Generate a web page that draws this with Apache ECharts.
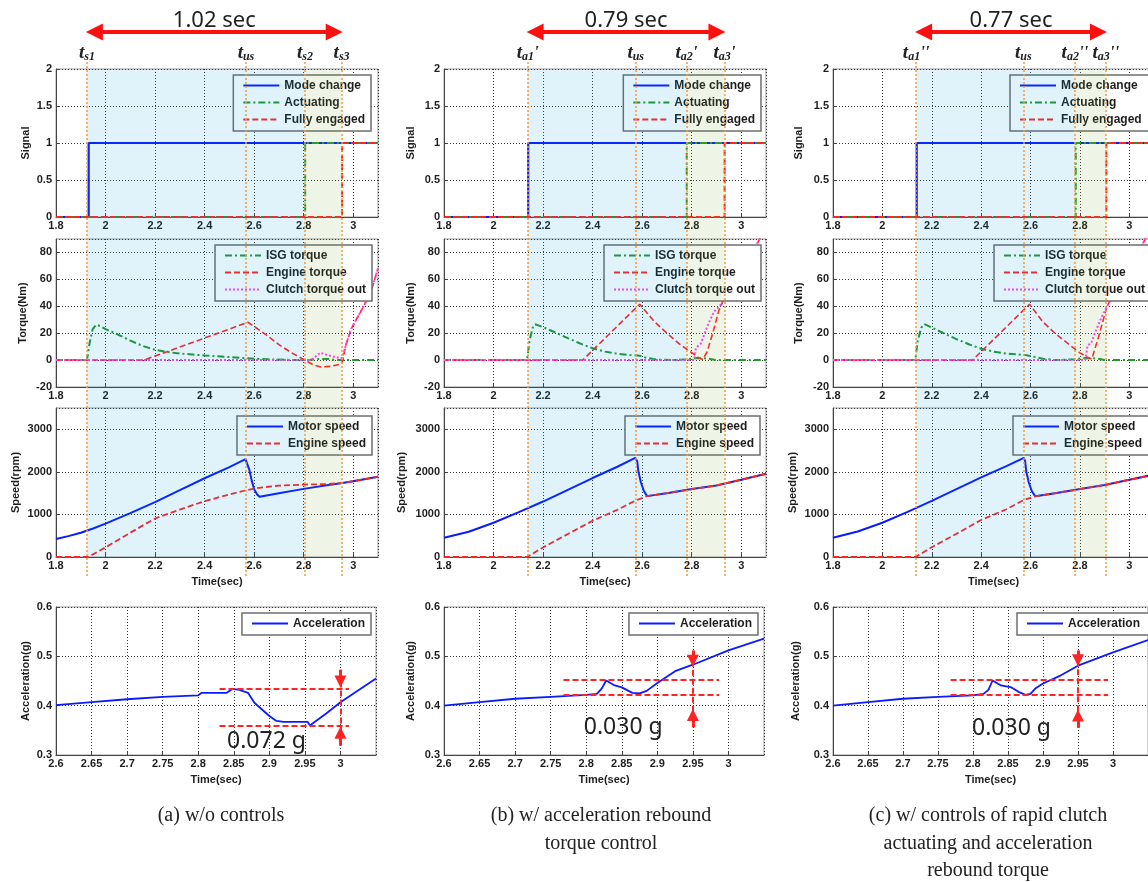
<!DOCTYPE html>
<html>
<head>
<meta charset="utf-8">
<title>Clutch engagement comparison</title>
<script src="https://cdn.jsdelivr.net/npm/echarts@6.0.0/dist/echarts.min.js"></script>
<style>
  html, body { margin: 0; padding: 0; background: #fff; }
  #main { width: 1148px; height: 882px; }
</style>
</head>
<body>
<div id="main"></div>
<script>
// ---- values ----
// event times per case: [t1, tus, t2, t3]
var eventsA = [1.925, 2.567, 2.805, 2.953];
var eventsB = [2.138, 2.574, 2.779, 2.932];
var eventsC = [2.137, 2.571, 2.780, 2.905];
var tagsA = [['s1', ''], ['us', ''], ['s2', ''], ['s3', '']];
var tagsB = [['a1', "'"], ['us', ''], ['a2', "'"], ['a3', "'"]];
var tagsC = [['a1', "''"], ['us', ''], ['a2', "''"], ['a3', "''"]];
var spanText = ['1.02 sec', '0.79 sec', '0.77 sec'];

// signal switching times [mode change, actuating, fully engaged]
var switchA = [1.932, 2.806, 2.955];
var switchB = [2.140, 2.780, 2.933];
var switchC = [2.139, 2.783, 2.907];

// torque (Nm)
var isgTqA = [[1.8,0],[1.925,0],[1.935,12],[1.948,23],[1.962,26.3],[1.98,25.2],[2.0,23],[2.05,19],[2.1,14.5],[2.15,10.5],[2.2,7.6],[2.25,6],[2.3,4.9],[2.4,3.4],[2.5,2.3],[2.57,1.3],[2.65,0.6],[2.75,0.1],[2.82,0],[2.86,0.8],[2.9,0.8],[2.93,0],[3.1,0]];
var engTqA = [[1.8,0],[2.155,0],[2.575,28.1],[2.6,25],[2.65,18.5],[2.7,11.5],[2.75,5.5],[2.8,0.5],[2.84,-3.6],[2.87,-5.2],[2.91,-4.6],[2.945,-3.2],[2.955,-2],[2.97,11],[2.99,22.5],[3.0,26],[3.03,36],[3.06,46],[3.08,56],[3.1,68]];
var clutchA = [[1.8,0],[2.83,0],[2.85,3],[2.868,5.5],[2.89,4.2],[2.915,2.8],[2.94,1.8],[2.955,1.5],[2.97,11],[2.99,22.5],[3.0,26],[3.03,36],[3.06,46],[3.08,56],[3.1,68]];
var isgTqB = [[1.8,0],[2.135,0],[2.145,14],[2.158,24],[2.168,26.6],[2.2,24.5],[2.25,20.5],[2.3,16.3],[2.35,12.3],[2.4,8.8],[2.45,6.3],[2.5,4.7],[2.55,3.8],[2.59,3.2],[2.62,1.6],[2.66,0.4],[2.72,0],[2.78,0.5],[2.82,1.5],[2.86,1.2],[2.9,0],[3.1,0]];
var engTqB = [[1.8,0],[2.36,0],[2.59,41.5],[2.62,35],[2.65,28.5],[2.7,20],[2.75,12],[2.8,5.5],[2.83,1.6],[2.845,0.5],[2.862,6],[2.885,20],[2.91,37],[2.932,46],[3.075,90],[3.1,98]];
var clutchB = [[1.8,0],[2.81,0],[2.817,9],[2.837,12.3],[2.865,26],[2.89,36],[2.912,40],[2.932,46],[3.075,90],[3.1,98]];
var isgTqC = [[1.8,0],[2.133,0],[2.143,14],[2.157,24],[2.17,26.7],[2.2,24.2],[2.25,19.8],[2.3,15.6],[2.35,11.8],[2.4,8.4],[2.45,6.3],[2.5,4.9],[2.55,4.1],[2.58,3.7],[2.6,3],[2.65,1],[2.7,0],[2.77,0.5],[2.82,1.5],[2.87,1.2],[2.9,0],[3.1,0]];
var engTqC = [[1.8,0],[2.365,0],[2.596,41.5],[2.65,28.4],[2.7,19.8],[2.76,11],[2.8,5.4],[2.834,1.7],[2.848,0.7],[2.875,17],[2.909,39.5],[2.93,47],[3.065,90],[3.1,101]];
var clutchC = [[1.8,0],[2.822,0],[2.831,11],[2.845,12.5],[2.865,22],[2.888,32],[2.909,39.5],[2.93,47],[3.065,90],[3.1,101]];

// speed (rpm)
var motorA = [[1.8,424],[1.85,490],[1.9,570],[1.95,670],[2.0,785],[2.1,1030],[2.2,1290],[2.3,1570],[2.4,1850],[2.5,2110],[2.565,2300],[2.572,2310],[2.58,2060],[2.59,1800],[2.6,1590],[2.612,1470],[2.622,1414],[2.7,1500],[2.8,1600],[2.9,1690],[2.95,1730],[3.0,1780],[3.1,1885]];
var engSpA = [[1.8,0],[1.93,0],[2.0,226],[2.1,570],[2.2,905],[2.3,1115],[2.4,1311],[2.5,1468],[2.57,1570],[2.62,1626],[2.7,1678],[2.8,1700],[2.9,1715],[2.955,1740],[3.0,1785],[3.1,1885]];
var motorB = [[1.8,450],[1.9,592],[2.0,805],[2.1,1050],[2.2,1303],[2.3,1579],[2.4,1855],[2.5,2120],[2.572,2330],[2.58,2250],[2.585,2000],[2.595,1750],[2.607,1550],[2.62,1430],[2.7,1500],[2.8,1595],[2.9,1680],[3.0,1815],[3.1,1955]];
var engSpB = [[1.8,0],[2.135,0],[2.2,225],[2.3,540],[2.4,850],[2.5,1110],[2.575,1330],[2.62,1430],[2.7,1500],[2.8,1590],[2.9,1680],[3.0,1815],[3.1,1955]];
var motorC = [[1.8,450],[1.9,600],[2.0,805],[2.1,1055],[2.2,1318],[2.3,1595],[2.4,1871],[2.5,2130],[2.573,2330],[2.578,2250],[2.583,2000],[2.593,1750],[2.605,1550],[2.619,1425],[2.7,1500],[2.8,1595],[2.9,1690],[3.0,1816],[3.1,1934]];
var engSpC = [[1.8,0],[2.135,0],[2.2,230],[2.3,545],[2.4,870],[2.5,1115],[2.573,1342],[2.619,1425],[2.7,1500],[2.8,1595],[2.9,1690],[3.0,1816],[3.1,1934]];

// acceleration (g)
var accA = [[2.6,0.401],[2.65,0.407],[2.7,0.413],[2.75,0.418],[2.8,0.421],[2.805,0.426],[2.84,0.426],[2.848,0.434],[2.858,0.432],[2.87,0.426],[2.879,0.406],[2.9,0.379],[2.91,0.369],[2.92,0.367],[2.954,0.367],[2.957,0.360],[2.98,0.384],[3.0,0.407],[3.05,0.455]];
var accB = [[2.6,0.400],[2.65,0.407],[2.7,0.414],[2.75,0.418],[2.8,0.422],[2.815,0.424],[2.822,0.435],[2.828,0.451],[2.84,0.441],[2.85,0.437],[2.865,0.426],[2.875,0.425],[2.885,0.43],[2.9,0.446],[2.925,0.47],[2.95,0.483],[3.0,0.512],[3.05,0.536]];
var accC = [[2.6,0.400],[2.65,0.407],[2.7,0.414],[2.75,0.418],[2.8,0.421],[2.815,0.424],[2.822,0.432],[2.828,0.451],[2.84,0.441],[2.855,0.437],[2.865,0.428],[2.875,0.422],[2.882,0.424],[2.89,0.436],[2.9,0.445],[2.925,0.461],[2.95,0.481],[3.0,0.508],[3.05,0.533]];

// rebound marks: dashed levels and the printed difference
var dropA = [0.435, 0.359];
var dropB = [0.4525, 0.4225];
var dropC = [0.4525, 0.4225];
var dropText = ['0.072 g', '0.030 g', '0.030 g'];

var captions = ['(a) w/o controls', '(b) w/ acceleration rebound\ntorque control', '(c) w/ controls of rapid clutch\nactuating and acceleration\nrebound torque'];

// ---- layout ----
var rowTop = [69, 239, 408, 607];
var rowHeight = [148, 148, 149, 148];
var rows = [
  { name: 'Signal', min: 0, max: 2, interval: 0.5, legend: ['Mode change', 'Actuating', 'Fully engaged'] },
  { name: 'Torque(Nm)', min: -20, max: 90, interval: 20, legend: ['ISG torque', 'Engine torque', 'Clutch torque out'] },
  { name: 'Speed(rpm)', min: 0, max: 3500, interval: 1000, legend: ['Motor speed', 'Engine speed'] },
  { name: 'Acceleration(g)', min: 0.3, max: 0.6, interval: 0.1, legend: ['Acceleration'] }
];

var columns = [
  { left: 56, width: 322, accWidth: 320, nameGap: [25, 28, 35, 25], capX: 221, padRight: 6,
    legendPos: [{ right: 777, top: 75 }, { right: 776, top: 245 }, { right: 776, top: 416 }, { right: 777, top: 613 }],
    events: eventsA, tags: tagsA, sw: switchA, isg: isgTqA, engTq: engTqA, clutch: clutchA, motor: motorA, engSp: engSpA, acc: accA, drop: dropA,
    mark: { from: 2.83, to: 3.012, x: 3.0, down: [0.473, 0.449], up: [0.319, 0.345], text: [2.896, 0.327] } },
  { left: 444, width: 322, accWidth: 320, nameGap: [28, 28, 37, 28], capX: 601, padRight: 6,
    legendPos: [{ right: 387, top: 75 }, { right: 387, top: 245 }, { right: 388, top: 416 }, { right: 390, top: 613 }],
    events: eventsB, tags: tagsB, sw: switchB, isg: isgTqB, engTq: engTqB, clutch: clutchB, motor: motorB, engSp: engSpB, acc: accB, drop: dropB,
    mark: { from: 2.768, to: 2.987, x: 2.95, down: [0.512, 0.491], up: [0.356, 0.381], text: [2.852, 0.355] } },
  { left: 833, width: 321, accWidth: 315, nameGap: [29, 29, 35, 32], capX: 988, padRight: 20,
    legendPos: [{ left: 1010, top: 75 }, { left: 994, top: 245 }, { left: 1013, top: 416 }, { left: 1017, top: 613 }],
    events: eventsC, tags: tagsC, sw: switchC, isg: isgTqC, engTq: engTqC, clutch: clutchC, motor: motorC, engSp: engSpC, acc: accC, drop: dropC,
    mark: { from: 2.768, to: 2.993, x: 2.95, down: [0.512, 0.492], up: [0.355, 0.380], text: [2.855, 0.354] } }
];

var blue = '#0b1bff', green = '#1e9a2c', red = '#ff2424', magenta = '#ff40ff', orange = '#f59a3c';
var styles = {
  'Mode change': { color: blue, type: 'solid', width: 2.2 },
  'Actuating': { color: green, type: [7, 3, 2, 3], width: 2 },
  'Fully engaged': { color: red, type: [6, 3], width: 2 },
  'ISG torque': { color: green, type: [7, 3, 2, 3], width: 2 },
  'Engine torque': { color: red, type: [6, 3], width: 1.6 },
  'Clutch torque out': { color: magenta, type: [2, 2], width: 2 },
  'Motor speed': { color: blue, type: 'solid', width: 2 },
  'Engine speed': { color: red, type: [6, 3], width: 1.8 },
  'Acceleration': { color: blue, type: 'solid', width: 1.8 }
};

var labelFont = { fontFamily: 'Liberation Sans', fontWeight: 'bold', fontSize: 11, color: '#1e1e1e' };
var tagStyle = { fontFamily: 'Liberation Serif', fontStyle: 'italic', fontWeight: 'bold', color: '#222' };
var tagRich = {
  t: Object.assign({ fontSize: 19, lineHeight: 20 }, tagStyle),
  s: Object.assign({ fontSize: 12, lineHeight: 6, verticalAlign: 'bottom' }, tagStyle),
  p: Object.assign({ fontSize: 17, lineHeight: 20 }, tagStyle)
};

var option = {
  animation: false,
  backgroundColor: '#fff',
  grid: [], xAxis: [], yAxis: [], legend: [], series: [], graphic: []
};

function addLine(name, data, idx) {
  var s = styles[name];
  var ser = {
    type: 'line', name: name, data: data, xAxisIndex: idx, yAxisIndex: idx,
    symbol: 'none', silent: true, z: 2,
    lineStyle: { color: s.color, type: s.type, width: s.width },
    itemStyle: { color: s.color }
  };
  option.series.push(ser);
  return ser;
}

function stepData(t) {
  return [[1.8, 0], [t, 0], [t, 1], [3.1, 1]];
}

function fmtTick(v) {
  return String(+v.toFixed(2));
}

// pass 1: the twelve plot grids
columns.forEach(function (col, c) {
  rows.forEach(function (row, r) {
    var gi = c * 4 + r;
    var isAcc = r === 3;
    option.grid.push({
      left: col.left, top: rowTop[r], width: isAcc ? col.accWidth : col.width, height: rowHeight[r],
      show: true, borderColor: '#9a9a9a', borderWidth: 1, backgroundColor: 'transparent',
      outerBoundsMode: 'none'
    });
    option.xAxis.push({
      type: 'value', gridIndex: gi,
      min: isAcc ? 2.6 : 1.8, max: isAcc ? 3.05 : 3.1, interval: isAcc ? 0.05 : 0.2,
      name: r >= 2 ? 'Time(sec)' : '', nameLocation: 'middle', nameGap: 19, nameTextStyle: labelFont,
      axisLine: { show: true, onZero: false, lineStyle: { color: '#444', width: 1 } },
      axisTick: { show: true, inside: true, length: 4, lineStyle: { color: '#444' } },
      axisLabel: Object.assign({ margin: 3, showMaxLabel: false, formatter: fmtTick }, labelFont),
      splitLine: { show: true, lineStyle: { color: '#3a3a3a', type: [1, 2], width: 1 } }
    });
    option.yAxis.push({
      type: 'value', gridIndex: gi, min: row.min, max: row.max, interval: row.interval,
      name: row.name, nameLocation: 'middle', nameRotate: 90, nameGap: col.nameGap[r], nameTextStyle: labelFont,
      axisLine: { show: true, onZero: false, lineStyle: { color: '#444', width: 1 } },
      axisTick: { show: true, inside: true, length: 4, lineStyle: { color: '#444' } },
      axisLabel: Object.assign({ margin: 4, showMaxLabel: r === 0 || r === 3, formatter: fmtTick }, labelFont),
      splitLine: { show: true, lineStyle: { color: '#3a3a3a', type: [1, 2], width: 1 } }
    });
    option.legend.push(Object.assign({
      show: true, orient: 'vertical', data: row.legend, selectedMode: false,
      itemWidth: 36, itemHeight: 10, itemGap: 4, padding: [4, col.padRight, 5, 9],
      backgroundColor: '#fff', borderColor: '#6e6e6e', borderWidth: 1.5, borderRadius: 0,
      itemStyle: { opacity: 0 },
      textStyle: { fontFamily: 'Liberation Sans', fontWeight: 'bold', fontSize: 12, color: '#1e1e1e', lineHeight: 13 },
      z: 4
    }, col.legendPos[r]));
  });
});

// pass 2: series, marks and the overlays
columns.forEach(function (col, c) {
  var g = c * 4;
  addLine('Mode change', stepData(col.sw[0]), g);
  addLine('Actuating', stepData(col.sw[1]), g);
  addLine('Fully engaged', stepData(col.sw[2]), g);
  addLine('ISG torque', col.isg, g + 1);
  addLine('Engine torque', col.engTq, g + 1);
  addLine('Clutch torque out', col.clutch, g + 1);
  addLine('Motor speed', col.motor, g + 2);
  addLine('Engine speed', col.engSp, g + 2);

  var acc = addLine('Acceleration', col.acc, g + 3);
  var m = col.mark;
  var dashRed = { color: red, type: [6, 3], width: 2 };
  var solidRed = { color: red, type: 'solid', width: 3 };
  acc.markLine = {
    silent: true, symbol: 'none', animation: false, label: { show: false },
    data: [
      [{ coord: [m.from, col.drop[0]], lineStyle: dashRed }, { coord: [m.to, col.drop[0]] }],
      [{ coord: [m.from, col.drop[1]], lineStyle: dashRed }, { coord: [m.to, col.drop[1]] }],
      [{ coord: [m.x, m.down[1]], lineStyle: dashRed }, { coord: [m.x, m.up[1]] }],
      [{ coord: [m.x, m.down[0]], symbol: 'none', lineStyle: solidRed }, { coord: [m.x, m.down[1]], symbol: 'triangle', symbolSize: 12 }],
      [{ coord: [m.x, m.up[0]], symbol: 'none', lineStyle: solidRed }, { coord: [m.x, m.up[1]], symbol: 'triangle', symbolSize: 12 }]
    ]
  };
  acc.markPoint = {
    silent: true, animation: false, symbol: 'circle', symbolSize: 0,
    itemStyle: { color: 'transparent' },
    label: { show: true, position: 'inside', formatter: dropText[c], fontFamily: 'Noto Sans', fontSize: 23, color: '#222' },
    data: [{ coord: m.text }]
  };

  // overlay spanning the three upper rows: shaded phases, event lines, duration arrow
  var oi = 12 + c;
  option.grid.push({ left: col.left, top: 0, width: col.width, height: 882, show: false, outerBoundsMode: 'none' });
  option.xAxis.push({ type: 'value', gridIndex: oi, min: 1.8, max: 3.1, show: false });
  option.yAxis.push({ type: 'value', gridIndex: oi, min: 0, max: 882, inverse: true, show: false });
  var ev = col.events;
  var vlines = ev.map(function (t, k) {
    var tag = col.tags[k];
    var txt = '{t|t}{s|' + tag[0] + '}' + (tag[1] ? '{p|' + tag[1] + '}' : '');
    return [
      { coord: [t, 576], lineStyle: { color: orange, type: [2, 2], width: 1.5 },
        label: { show: true, position: 'end', distance: -2, formatter: txt, rich: tagRich } },
      { coord: [t, 61] }
    ];
  });
  vlines.push([
    { coord: [ev[0] + 0.03, 32], symbol: 'triangle', symbolSize: 17,
      lineStyle: { color: '#ff1010', type: 'solid', width: 4 },
      label: { show: true, position: 'insideMiddleTop', distance: 0, formatter: spanText[c],
        fontFamily: 'Noto Sans', fontSize: 22, lineHeight: 22, color: '#222' } },
    { coord: [ev[3] - 0.03, 32], symbol: 'triangle', symbolSize: 17 }
  ]);
  option.series.push({
    type: 'line', name: 'overlay' + c, data: [], xAxisIndex: oi, yAxisIndex: oi,
    symbol: 'none', silent: true, z: 6,
    markArea: {
      silent: true, z: 6, label: { show: false },
      data: [
        [{ xAxis: ev[0], yAxis: 69, itemStyle: { color: 'rgba(0,150,210,0.12)' } }, { xAxis: ev[2], yAxis: 557 }],
        [{ xAxis: ev[2], yAxis: 69, itemStyle: { color: 'rgba(120,175,50,0.12)' } }, { xAxis: ev[3], yAxis: 557 }]
      ]
    },
    markLine: { silent: true, z: 7, symbol: 'none', animation: false, label: { show: false }, data: vlines }
  });

  option.graphic.push({
    type: 'text', x: col.capX, y: 802,
    style: { text: captions[c], font: '20px "Liberation Serif"', fill: '#222', textAlign: 'center', textVerticalAlign: 'top', lineHeight: 27.5 }
  });
});

var chart = echarts.init(document.getElementById('main'));
chart.setOption(option);
</script>
</body>
</html>
